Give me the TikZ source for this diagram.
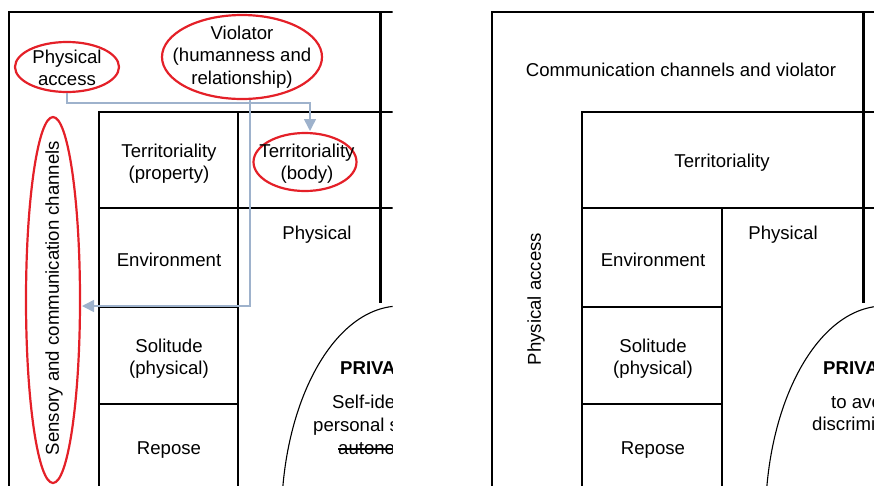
\documentclass[tikz,border=0pt]{standalone}
\usepackage{fontspec}
\setmainfont{Liberation Sans}
\usetikzlibrary{shapes.geometric,arrows.meta}
\definecolor{redE}{RGB}{228,32,40}
\definecolor{connC}{RGB}{158,178,204}
\begin{document}
\begin{tikzpicture}[x=1pt,y=-1pt,
  txt/.style={inner sep=0pt, align=center, font=\fontsize{18.6pt}{22.5pt}\selectfont},
  redell/.style={draw=redE, line width=2.2pt, ellipse, inner sep=0pt},
  gridline/.style={line width=1.1pt, black},
  heavyline/.style={line width=3pt, black},
  strike/.style={line width=1.2pt, black},
  connline/.style={draw=connC, line width=1.5pt, -{Triangle[length=12pt,width=12pt]}}
]
\useasboundingbox (0,0) rectangle (874,485);

% ---------------- left panel ----------------
\begin{scope}
\clip (0,0) rectangle (392.5,485);
\draw[gridline] (9,490) -- (9,12) -- (400,12);
\draw[heavyline] (380,12) -- (380,303);
\draw[gridline] (99,490) -- (99,112) -- (400,112);
\draw[gridline] (99,208) -- (400,208);
\draw[gridline] (238,112) -- (238,490);
\draw[gridline] (99,307) -- (238,307);
\draw[gridline] (99,404) -- (238,404);
\draw[gridline] (400,520) ellipse [x radius=118.6pt, y radius=214pt];

\node[txt] (tprop) at (169,163.5) {Territoriality\\(property)};
\node[txt] (physL) at (317,235) {Physical};
\node[txt] (envL) at (169,260) {Environment};
\node[txt] (solL) at (169,358.5) {Solitude\\(physical)};
\node[txt] (repL) at (169,450) {Repose};

\node[txt, anchor=base west] (privL) at (340,374) {\bfseries PRIVACY};
\node[txt, anchor=base west] (selfL) at (332,408.5) {Self-identity,};
\node[txt, anchor=base west] (persL) at (313,431.5) {personal space,};
\node[txt, anchor=base west] (autL) at (338,454.5) {autonomy};
\draw[strike] ([yshift=5.5pt]autL.base west) -- ([yshift=5.5pt]autL.base east);

\node[redell, minimum width=104pt, minimum height=50pt] (paE) at (67,67) {};
\node[txt] (pa) at (67,68) {Physical\\access};
\node[redell, minimum width=160pt, minimum height=84pt] (vioE) at (242,57) {};
\node[txt] (vio) at (242,57) {Violator\\(humanness and\\relationship)};
\node[redell, minimum width=103pt, minimum height=58pt] (tbE) at (305,162) {};
\node[txt] (tb) at (307,163.5) {Territoriality\\(body)};
\node[redell, minimum width=54pt, minimum height=366pt] (sensE) at (53,300) {};
\node[txt, rotate=90] (sens) at (54,298) {Sensory and communication channels};

\coordinate (bend1) at (310,103);
\coordinate (tbIn) at (310,131);
\draw[connline] (paE.south) |- (bend1) -- (tbIn);
\coordinate (bend2) at (250,306);
\coordinate (sensIn) at (82,306);
\draw[connline] (vioE.south -| bend2) -- (bend2) -- (sensIn);
\end{scope}

% ---------------- right panel ----------------
\begin{scope}
\clip (480,0) rectangle (874,485);
\draw[gridline] (492,490) -- (492,12) -- (880,12);
\draw[heavyline] (863,12) -- (863,303);
\draw[gridline] (582,490) -- (582,112) -- (880,112);
\draw[gridline] (582,208) -- (880,208);
\draw[gridline] (722,208) -- (722,490);
\draw[gridline] (582,307) -- (722,307);
\draw[gridline] (582,404) -- (722,404);
\draw[gridline] (884,520) ellipse [x radius=118.6pt, y radius=214pt];

\node[txt] (comm) at (681,70) {Communication channels and violator};
\node[txt] (terrR) at (722,163) {Territoriality};
\node[txt] (physR) at (783,235) {Physical};
\node[txt] (envR) at (653,260) {Environment};
\node[txt] (solR) at (653,358.5) {Solitude\\(physical)};
\node[txt] (repR) at (653,450) {Repose};
\node[txt, rotate=90] (paR) at (536,299) {Physical access};

\node[txt, anchor=base west] (privR) at (823,374) {\bfseries PRIVACY};
\node[txt, anchor=base west] (avoidR) at (831,408.5) {to avoid};
\node[txt, anchor=base west] (discR) at (812,430.5) {discrimination};
\end{scope}
\end{tikzpicture}
\end{document}
